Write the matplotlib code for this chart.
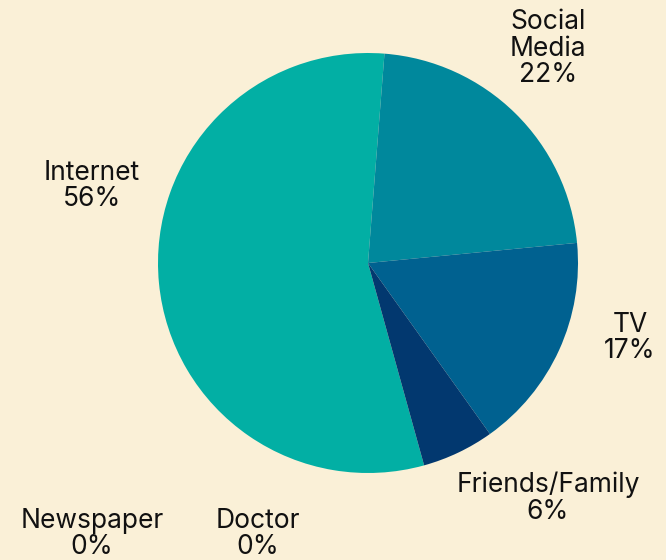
import matplotlib
matplotlib.use("Agg")
import matplotlib.pyplot as plt

categories = ["Internet", "Social Media", "TV", "Friends/Family", "Newspaper", "Doctor"]
counts = [10, 4, 3, 1, 0, 0]
pct_labels = ["56%", "22%", "17%", "6%", "0%", "0%"]
display_names = ["Internet", "Social\nMedia", "TV", "Friends/Family", "Newspaper", "Doctor"]
colors = ["#02AFA4", "#00889C", "#006190", "#02386F", "#02386F", "#02386F"]
# label anchor positions (relative to pie centre, in radius units)
label_pos = [(-1.314, 0.367), (0.857, 1.02), (1.248, -0.357), (0.857, -1.12),
             (-1.314, -1.29), (-0.524, -1.29)]

bg = "#FAF0D7"
W, H = 666, 560
fig = plt.figure(figsize=(W / 100, H / 100), dpi=100, facecolor=bg)
cx, cy, r = 368, 263, 210
ax = fig.add_axes([(cx - r) / W, (H - cy - r) / H, 2 * r / W, 2 * r / H])
ax.set_facecolor(bg)
ax.pie(counts, colors=colors, startangle=285.5, counterclock=False,
       radius=1, wedgeprops=dict(linewidth=0))
ax.set_xlim(-1, 1)
ax.set_ylim(-1, 1)
ax.set_aspect("equal")
ax.axis("off")

for name, pct, (x, y) in zip(display_names, pct_labels, label_pos):
    ax.text(x, y, f"{name}\n{pct}", ha="center", va="center", fontsize=19,
            family="Inter", color="#111111", linespacing=1.02, clip_on=False)

fig.savefig("out.png", dpi=100, facecolor=bg)
